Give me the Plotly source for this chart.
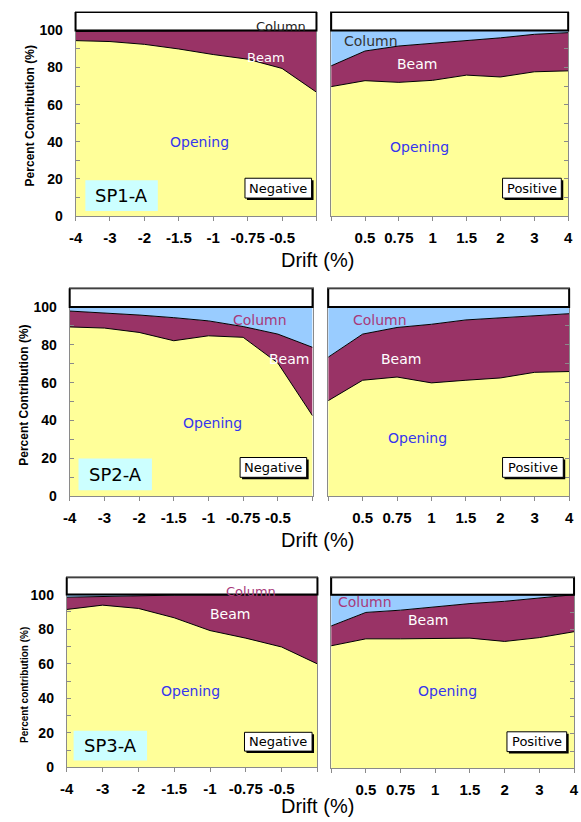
import plotly.graph_objects as go

W, H = 581, 822

# ---------------- data ----------------
X_NEG = ["-4", "-3", "-2", "-1.5", "-1", "-0.75", "-0.5", "0"]
X_POS = ["0", "0.5", "0.75", "1", "1.5", "2", "3", "4"]
NEG_TICKTEXT = ["-4", "-3", "-2", "-1.5", "-1", "-0.75", "-0.5", ""]
POS_TICKTEXT = ["", "0.5", "0.75", "1", "1.5", "2", "3", "4"]
Y_TICKS = [0, 20, 40, 60, 80, 100]

SP1_NEG_OPENING = [94.5, 94.0, 92.5, 90.0, 87.0, 84.5, 79.5, 66.7]
SP1_NEG_BEAM = [4.9, 5.6, 7.2, 9.8, 12.8, 15.4, 20.4, 33.2]
SP1_NEG_COLUMN = [0.6, 0.4, 0.3, 0.2, 0.2, 0.1, 0.1, 0.1]

SP1_POS_OPENING = [69.7, 72.9, 72.0, 73.1, 75.9, 74.9, 77.7, 78.2]
SP1_POS_BEAM = [11.2, 16.0, 19.6, 19.9, 18.9, 21.1, 20.2, 20.6]
SP1_POS_COLUMN = [19.1, 11.1, 8.4, 7.0, 5.2, 4.0, 2.1, 1.2]

SP2_NEG_OPENING = [89.5, 88.9, 86.6, 82.2, 84.8, 84.0, 70.4, 42.5]
SP2_NEG_BEAM = [8.4, 8.1, 9.2, 12.2, 7.9, 5.7, 15.3, 36.2]
SP2_NEG_COLUMN = [2.1, 3.0, 4.2, 5.6, 7.3, 10.3, 14.3, 21.3]

SP2_POS_OPENING = [50.5, 61.3, 63.0, 59.9, 61.3, 62.5, 65.5, 65.9]
SP2_POS_BEAM = [23.0, 24.4, 26.2, 31.0, 31.9, 31.9, 30.1, 30.6]
SP2_POS_COLUMN = [26.5, 14.3, 10.8, 9.1, 6.8, 5.6, 4.4, 3.5]

SP3_NEG_OPENING = [91.4, 93.9, 92.0, 86.6, 79.2, 74.8, 69.7, 59.9]
SP3_NEG_BEAM = [7.1, 5.1, 7.4, 13.1, 20.6, 25.1, 30.2, 40.0]
SP3_NEG_COLUMN = [1.5, 1.0, 0.6, 0.3, 0.2, 0.1, 0.1, 0.1]

SP3_POS_OPENING = [70.6, 74.6, 74.6, 75.0, 75.0, 73.1, 75.3, 78.7]
SP3_POS_BEAM = [11.4, 15.2, 16.5, 18.0, 19.9, 23.1, 23.0, 21.3]
SP3_POS_COLUMN = [18.0, 10.2, 8.9, 7.0, 5.1, 3.8, 1.7, 0.0]

SPECIMENS = ["SP1-A", "SP2-A", "SP3-A"]
YTITLES = ["Percent Contribution (%)", "Percent Contribution (%)", "Percent contribution (%)"]

C_OPEN = "#FFFF99"
C_BEAM = "#993366"
C_COL = "#99CCFF"
GRAY = "#8a8a8a"


def px(x):
    return x / W


def py(y):
    return 1 - y / H


fig = go.Figure()

# panel layout: (x0, x1, ytop, ybottom) in pixels
panels = [
    ((70, 316, 12, 218), (331, 573, 12, 218)),
    ((64, 312, 291, 501), (328, 574, 291, 501)),
    ((61, 317, 583, 775), (331, 579, 583, 776)),
]
data = [
    ((SP1_NEG_OPENING, SP1_NEG_BEAM, SP1_NEG_COLUMN), (SP1_POS_OPENING, SP1_POS_BEAM, SP1_POS_COLUMN)),
    ((SP2_NEG_OPENING, SP2_NEG_BEAM, SP2_NEG_COLUMN), (SP2_POS_OPENING, SP2_POS_BEAM, SP2_POS_COLUMN)),
    ((SP3_NEG_OPENING, SP3_NEG_BEAM, SP3_NEG_COLUMN), (SP3_POS_OPENING, SP3_POS_BEAM, SP3_POS_COLUMN)),
]

shapes = []
annotations = []
layout_axes = {}
idx = 0
for r in range(3):
    for side in range(2):
        idx += 1
        xname = "x" if idx == 1 else f"x{idx}"
        yname = "y" if idx == 1 else f"y{idx}"
        xcats = X_NEG if side == 0 else X_POS
        opening, beam, column = data[r][side]
        sg = f"g{idx}"
        for vals, col, name in ((opening, C_OPEN, "Opening"), (beam, C_BEAM, "Beam"), (column, C_COL, "Column")):
            fig.add_trace(go.Scatter(
                x=xcats, y=vals, name=name, stackgroup=sg, mode="lines",
                line=dict(color="black", width=1), fillcolor=col,
                xaxis=xname, yaxis=yname, showlegend=False, hoverinfo="skip"))
        x0, x1, yt, yb = panels[r][side]
        layout_axes["xaxis" if idx == 1 else f"xaxis{idx}"] = dict(
            domain=[px(x0), px(x1)], anchor=yname, type="category",
            categoryorder="array", categoryarray=xcats, range=[0, 7],
            tickvals=xcats, ticktext=NEG_TICKTEXT if side == 0 else POS_TICKTEXT,
            ticks="outside", ticklen=4, tickcolor=GRAY, showline=True, linecolor=GRAY,
            linewidth=1, mirror=True, showgrid=False, zeroline=False,
            tickfont=dict(family="Liberation Sans", size=15, color="black", weight="bold"),
            ticklabelstandoff=4, fixedrange=True)
        layout_axes["yaxis" if idx == 1 else f"yaxis{idx}"] = dict(
            domain=[py(yb), py(yt)], anchor=xname, range=[0, 110],
            tickvals=Y_TICKS, ticks="inside", ticklen=4, tickcolor=GRAY,
            showticklabels=(side == 0), side="left" if side == 0 else "right",
            minor=dict(tickvals=[10, 30, 50, 70, 90], ticks="inside", ticklen=4, tickcolor=GRAY),
            showline=True, linecolor=GRAY, linewidth=1, mirror=True,
            showgrid=False, zeroline=False,
            tickfont=dict(family="Liberation Sans", size=14, color="black", weight="bold"),
            ticklabelstandoff=9, fixedrange=True)
        # white top box with black border (100 - 110)
        shapes.append(dict(type="rect", xref=f"{xname} domain", yref=yname,
                           x0=0, x1=1, y0=100, y1=110,
                           line=dict(color="black", width=2), fillcolor="rgba(0,0,0,0)", layer="above"))

fig.update_layout(**layout_axes)


def textbox(cx, cy, w, h, text):
    # shadow + white box drawn as shapes, text as annotation
    shapes.append(dict(type="rect", xref="paper", yref="paper",
                       x0=px(cx - w / 2 + 2), x1=px(cx + w / 2 + 2),
                       y0=py(cy + h / 2 + 2), y1=py(cy - h / 2 + 2),
                       line=dict(width=0), fillcolor="black", layer="above"))
    shapes.append(dict(type="rect", xref="paper", yref="paper",
                       x0=px(cx - w / 2), x1=px(cx + w / 2),
                       y0=py(cy + h / 2), y1=py(cy - h / 2),
                       line=dict(color="black", width=1), fillcolor="white", layer="above"))
    annotations.append(dict(x=px(cx), y=py(cy), xref="paper", yref="paper", text=text,
                            showarrow=False, font=dict(family="DejaVu Sans", size=13, color="black"),
                            xanchor="center", yanchor="middle"))


def spbox(x0, x1, y0, y1, text):
    shapes.append(dict(type="rect", xref="paper", yref="paper",
                       x0=px(x0), x1=px(x1), y0=py(y1), y1=py(y0),
                       line=dict(width=0), fillcolor="#CCFFFF", layer="above"))
    annotations.append(dict(x=px((x0 + x1) / 2), y=py((y0 + y1) / 2), xref="paper", yref="paper",
                            text=text, showarrow=False,
                            font=dict(family="DejaVu Sans", size=18, color="black"),
                            xanchor="center", yanchor="middle"))


def label(x, y, text, color, size=14):
    annotations.append(dict(x=px(x), y=py(y), xref="paper", yref="paper", text=text,
                            showarrow=False, font=dict(family="DejaVu Sans", size=size, color=color),
                            xanchor="center", yanchor="middle"))


BLUE = "#3535EE"
MAROON_TXT = "#A8397A"

# Row 1
label(280, 27, "Column", "#222222", 13)
label(264, 58, "Beam", "white", 13)
label(197, 143, "Opening", BLUE, 14)
textbox(277, 190, 68, 20, "Negative")
spbox(80, 154, 182, 213, SPECIMENS[0])
label(372, 41, "Column", "#333333", 14)
label(419, 65, "Beam", "white", 14)
label(421, 148, "Opening", BLUE, 14)
textbox(536, 190, 60, 20, "Positive")

# Row 2
label(258, 323, "Column", MAROON_TXT, 14)
label(288, 363, "Beam", "white", 14)
label(210, 427, "Opening", BLUE, 14)
textbox(272, 472, 68, 20, "Negative")
spbox(73, 148, 463, 495, SPECIMENS[1])
label(381, 323, "Column", MAROON_TXT, 14)
label(402, 363, "Beam", "white", 14)
label(419, 442, "Opening", BLUE, 14)
textbox(537, 472, 62, 20, "Positive")

# Row 3
label(249, 597, "Column", MAROON_TXT, 13)
label(228, 620, "Beam", "white", 14)
label(187, 698, "Opening", BLUE, 14)
textbox(277, 749, 69, 19, "Negative")
spbox(68, 143, 738, 768, SPECIMENS[2])
label(366, 608, "Column", MAROON_TXT, 14)
label(430, 626, "Beam", "white", 14)
label(450, 698, "Opening", BLUE, 14)
textbox(541, 749, 61, 20, "Positive")

# Axis titles
for yc, xc, ttl, fs in ((117, 23, YTITLES[0], 12), (399, 17, YTITLES[1], 12), (692, 18, YTITLES[2], 10)):
    annotations.append(dict(x=px(xc), y=py(yc), xref="paper", yref="paper", text=ttl,
                            textangle=-90, showarrow=False,
                            font=dict(family="Liberation Sans", size=fs, color="black", weight="bold"),
                            xanchor="center", yanchor="middle"))
for yc in (263, 545, 814):
    annotations.append(dict(x=px(317), y=py(yc), xref="paper", yref="paper", text="Drift (%)",
                            showarrow=False, font=dict(family="Liberation Sans", size=20, color="black"),
                            xanchor="center", yanchor="middle"))

fig.update_layout(width=W, height=H, margin=dict(l=0, r=0, t=0, b=0),
                  paper_bgcolor="white", plot_bgcolor="white",
                  shapes=shapes, annotations=annotations, showlegend=False)

fig.write_html("out.html", config={"displayModeBar": False})
